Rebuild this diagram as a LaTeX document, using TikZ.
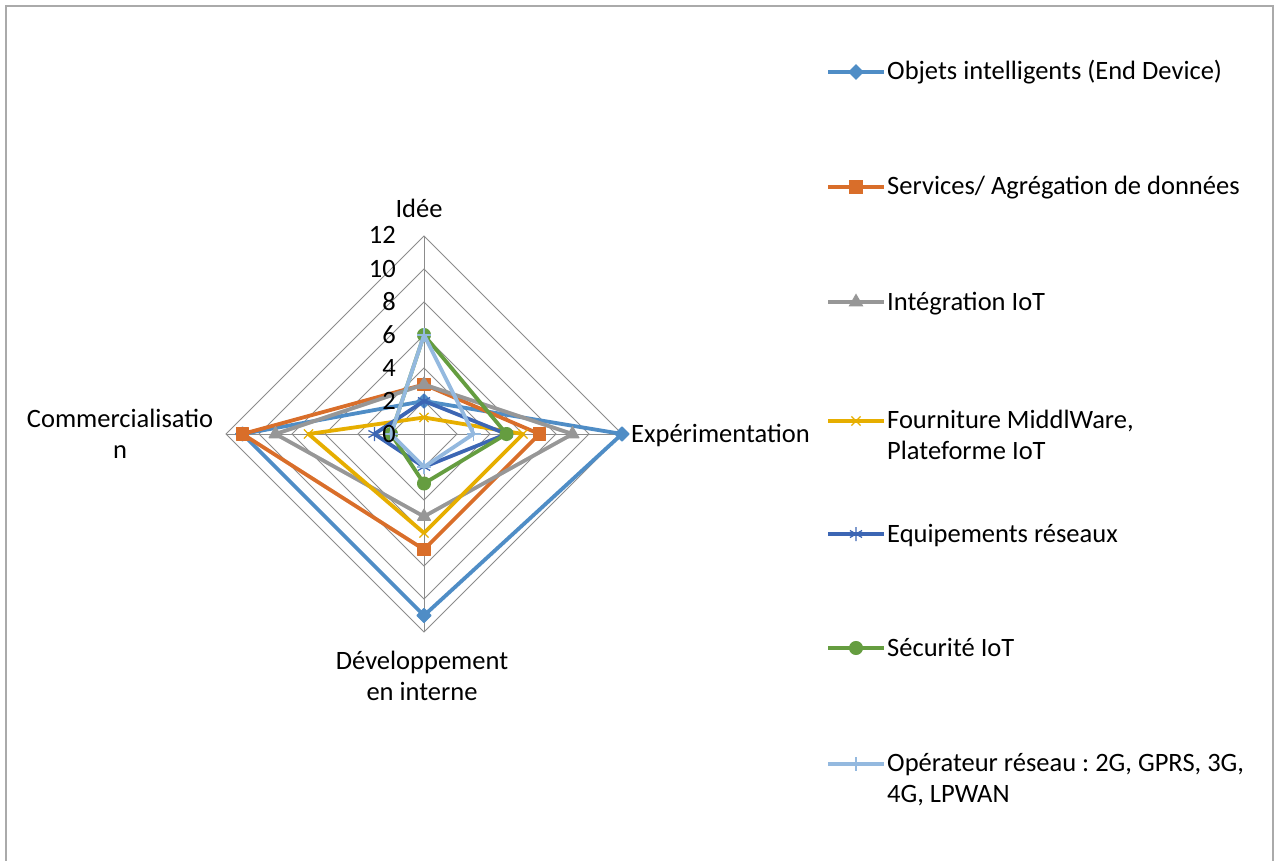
\documentclass[tikz,border=0pt]{standalone}
\usepackage{fontspec}
\setmainfont{Carlito}
\frenchspacing
\usetikzlibrary{plotmarks}
\definecolor{objblue}{HTML}{4F8DC6}
\definecolor{servorange}{HTML}{D96E2A}
\definecolor{integray}{HTML}{979797}
\definecolor{fourgold}{HTML}{E6AE00}
\definecolor{equipblue}{HTML}{3C66B4}
\definecolor{secugreen}{HTML}{659D40}
\definecolor{operblue}{HTML}{94B9DF}
\definecolor{gridgray}{HTML}{8C8C8C}
\definecolor{framegray}{HTML}{AAAAAA}
\tikzset{>=latex}
\tikzset{
  gridline/.style={draw=gridgray, line width=1pt},
  serie/.style={line width=3.8pt, line join=round},
  lbl/.style={font=\fontsize{26.5}{31}\selectfont, inner sep=0pt},
  mkdiamond/.style={mark=square*, mark size=5pt, mark options={solid, rotate=45, line width=1pt}},
  mksquare/.style={mark=square*, mark size=6.3pt, mark options={solid, line width=1pt}},
  mktriangle/.style={mark=triangle*, mark size=7.5pt, mark options={solid, line width=1pt}},
  mkcross/.style={mark=x, mark size=6.5pt, mark options={solid, line width=1.3pt}},
  mkstar/.style={mark=asterisk, mark size=7pt, mark options={solid, line width=1.3pt}},
  mkdot/.style={mark=*, mark size=6.5pt, mark options={solid, line width=1pt}},
  mkplus/.style={mark=+, mark size=7pt, mark options={solid, line width=1.3pt}},
}

\begin{document}
\begin{tikzpicture}[x=1pt,y=-1pt]
	\useasboundingbox (0,0) rectangle (1275,861);
	\draw[framegray, line width=2pt] (6,861) -- (6,6) -- (1273,6) -- (1273,861);

	% grille du radar
	\begin{scope}[shift={(424,434)}, x=16.5pt, y=16.5pt]
		\foreach \r in {2,4,...,12} {
			\draw[gridline] (0,\r) -- (\r,0) -- (0,-\r) -- (-\r,0) -- cycle;
		}
		\draw[gridline] (0,12) -- (0,-12);
		\draw[gridline] (-12,0) -- (12,0);

		% series (Idee, Experimentation, Developpement, Commercialisation)
		\draw[serie, objblue, mkdiamond] plot coordinates {(0,2) (12,0) (0,-11) (-11,0)} -- cycle;
		\draw[serie, servorange, mksquare] plot coordinates {(0,3) (7,0) (0,-7) (-11,0)} -- cycle;
		\draw[serie, integray, mktriangle] plot coordinates {(0,3) (9,0) (0,-5) (-9,0)} -- cycle;
		\draw[serie, fourgold, mkcross] plot coordinates {(0,1) (6,0) (0,-6) (-7,0)} -- cycle;
		\draw[serie, equipblue, mkstar] plot coordinates {(0,2) (5,0) (0,-2) (-3,0)} -- cycle;
		\draw[serie, secugreen, mkdot] plot coordinates {(0,6) (5,0) (0,-3) (-2,0)} -- cycle;
		\draw[serie, operblue, mkplus] plot coordinates {(0,6) (3,0) (0,-2) (-2,0)} -- cycle;
	\end{scope}

	% graduations
	\foreach \v in {0,2,...,12} {
		\node[lbl, anchor=base east] (tick\v) at (396, {442-16.5*\v}) {\v};
	}

	% axes
	\node[lbl, anchor=base] (idee) at (419,218) {Idée};
	\node[lbl, anchor=base west] (experim) at (631,442) {Expérimentation};
	\node[lbl, anchor=base, align=center] (commerc) at (120,458) {Commercialisatio\\n};
	\node[lbl, anchor=base, align=center] (develop) at (422,700) {Développement\\en interne};

	% legende
	\draw[serie, objblue] (828,72) -- (884,72);
	\draw[objblue, mkdiamond] plot coordinates {(856,72)};
	\node[lbl, anchor=base west] (legobj) at (887,80) {Objets intelligents (End Device)};

	\draw[serie, servorange] (828,187) -- (884,187);
	\draw[servorange, mksquare] plot coordinates {(856,187)};
	\node[lbl, anchor=base west] (legserv) at (887,195) {Services/ Agrégation de données};

	\draw[serie, integray] (828,302) -- (884,302);
	\draw[integray, mktriangle] plot coordinates {(856,302)};
	\node[lbl, anchor=base west] (leginte) at (887,310) {Intégration IoT};

	\draw[serie, fourgold] (828,421) -- (884,421);
	\draw[fourgold, mkcross] plot coordinates {(856,421)};
	\node[lbl, anchor=base west, align=left] (legfour) at (887,459) {Fourniture MiddlWare,\\Plateforme IoT};

	\draw[serie, equipblue] (828,534) -- (884,534);
	\draw[equipblue, mkstar] plot coordinates {(856,534)};
	\node[lbl, anchor=base west] (legequip) at (887,542) {Equipements réseaux};

	\draw[serie, secugreen] (828,648) -- (884,648);
	\draw[secugreen, mkdot] plot coordinates {(856,648)};
	\node[lbl, anchor=base west] (legsecu) at (887,656) {Sécurité IoT};

	\draw[serie, operblue] (828,764) -- (884,764);
	\draw[operblue, mkplus] plot coordinates {(856,764)};
	\node[lbl, anchor=base west, align=left] (legoper) at (887,802) {Opérateur réseau : 2G, GPRS, 3G,\\4G, LPWAN};
\end{tikzpicture}
\end{document}
